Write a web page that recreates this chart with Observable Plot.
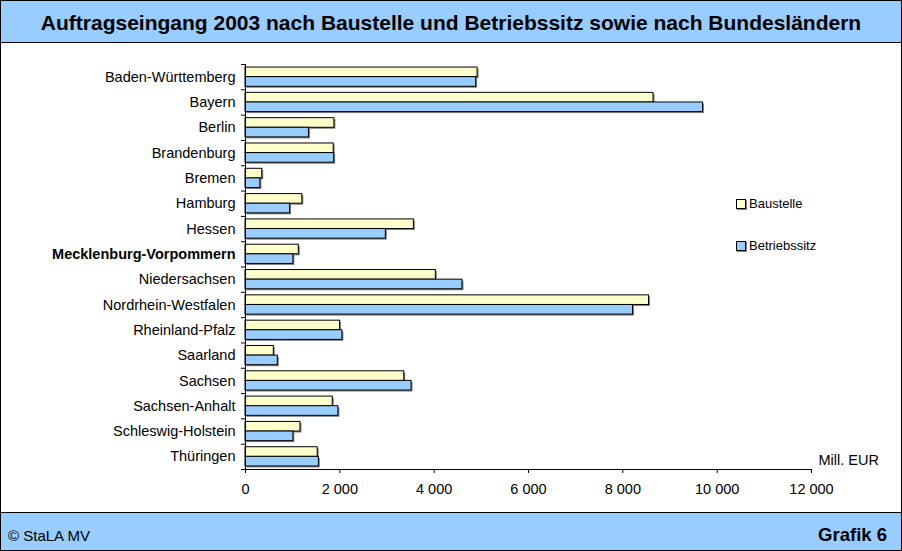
<!DOCTYPE html>
<html>
<head>
<meta charset="utf-8">
<script src="https://cdn.jsdelivr.net/npm/d3@7"></script>
<script src="https://cdn.jsdelivr.net/npm/@observablehq/plot@0.6"></script>
<style>
  body { margin: 0; background: #fff; font-family: "Liberation Sans", Arial, sans-serif; }
  #wrap { position: relative; width: 902px; height: 551px; overflow: hidden; background: #fff; }
  #title { position: absolute; left: 0; top: 0; width: 902px; height: 43px; background: #99ccff; border-bottom: 1px solid #000;
           font-weight: bold; font-size: 21px; text-align: center; line-height: 46px; color: #000; box-sizing: border-box; white-space: nowrap; }
  #chart { position: absolute; left: 0; top: 44px; }
  #footer { position: absolute; left: 0; top: 512px; width: 902px; height: 39px; background: #99ccff; border-top: 1px solid #000; box-sizing: border-box; }
  #src { position: absolute; left: 8px; top: 14px; font-size: 15px; }
  #num { position: absolute; right: 15px; top: 11px; font-size: 18.5px; font-weight: bold; }
  #frame { position: absolute; left: 0; top: 0; width: 902px; height: 551px; border: 1px solid #000; box-sizing: border-box; pointer-events: none; }
  .leg { position: absolute; left: 736px; font-size: 13px; display: flex; align-items: center; }
  .leg span.sw { display: inline-block; width: 8px; height: 8px; border: 1px solid #000; margin-right: 3px; box-shadow: 1px 1px 0 #808080; }
</style>
</head>
<body>
<div id="wrap">
  <div id="title">Auftragseingang 2003 nach Baustelle und Betriebssitz sowie nach Bundesländern</div>
  <div id="chart"></div>
  <div class="leg" style="top:196px"><span class="sw" style="background:#ffffcc"></span>Baustelle</div>
  <div class="leg" style="top:238px"><span class="sw" style="background:#99ccff"></span>Betriebssitz</div>
  <div id="footer"><span id="src">© StaLA MV</span><span id="num">Grafik 6</span></div>
  <div id="frame"></div>
</div>
<script>
const states = ["Baden-Württemberg","Bayern","Berlin","Brandenburg","Bremen","Hamburg","Hessen","Mecklenburg-Vorpommern","Niedersachsen","Nordrhein-Westfalen","Rheinland-Pfalz","Saarland","Sachsen","Sachsen-Anhalt","Schleswig-Holstein","Thüringen"];
const baustelle    = [4920, 8650, 1885, 1870, 355, 1205, 3570, 1130, 4035, 8555, 2005, 600, 3365, 1850, 1165, 1530];
const betriebssitz = [4890, 9700, 1345, 1880, 315,  945, 2975, 1015, 4600, 8215, 2055, 685, 3520, 1970, 1015, 1555];
const xTicks = [0, 2000, 4000, 6000, 8000, 10000, 12000];
const highlight = "Mecklenburg-Vorpommern";

const rows = [];
states.forEach((s, i) => {
  rows.push({state: s, i, series: "Baustelle", value: baustelle[i], y1: i + 0.12, y2: i + 0.5});
  rows.push({state: s, i, series: "Betriebssitz", value: betriebssitz[i], y1: i + 0.5, y2: i + 0.88});
});
const labels = states.map((s, i) => ({state: s, y: i + 0.5}));
const fmt = d => d3.format(",")(d).replace(/,/g, " ");

const plot = Plot.plot({
  width: 902,
  height: 468,
  marginLeft: 245,
  marginRight: 91,
  marginTop: 20,
  marginBottom: 43,
  style: {fontFamily: "Liberation Sans, Arial, sans-serif", fontSize: "14.5px", background: "transparent"},
  x: {domain: [0, 12000]},
  y: {domain: [0, states.length], reverse: true},
  color: {domain: ["Baustelle", "Betriebssitz"], range: ["#ffffcc", "#99ccff"]},
  marks: [
    Plot.rectX(rows, {x1: 0, x2: "value", y1: "y1", y2: "y2", fill: "#808080", dx: 1.5, dy: 1.5}),
    Plot.rectX(rows, {x1: 0, x2: "value", y1: "y1", y2: "y2", fill: "series", stroke: "#000", strokeWidth: 1}),
    Plot.ruleX([0], {stroke: "#000"}),
    Plot.ruleY([states.length], {stroke: "#000"}),
    Plot.axisY({ticks: d3.range(0, states.length + 1), tickFormat: () => "", tickSize: 4, anchor: "left", stroke: "#000"}),
    Plot.axisX({ticks: xTicks, tickFormat: fmt, tickSize: 4, tickPadding: 10, label: null, anchor: "bottom", fontSize: 14.5}),
    Plot.text(labels.filter(d => d.state !== highlight), {x: 0, y: "y", text: "state", textAnchor: "end", dx: -10, fontSize: 14.5, fill: "#000"}),
    Plot.text(labels.filter(d => d.state === highlight), {x: 0, y: "y", text: "state", textAnchor: "end", dx: -10, fontSize: 14.5, fontWeight: "bold", fill: "#000"}),
    Plot.text(["Mill. EUR"], {x: 12000, y: states.length, text: d => d, textAnchor: "start", dx: 7, dy: -9, fontSize: 14.5, fill: "#000"})
  ]
});
document.getElementById("chart").appendChild(plot);
</script>
</body>
</html>
